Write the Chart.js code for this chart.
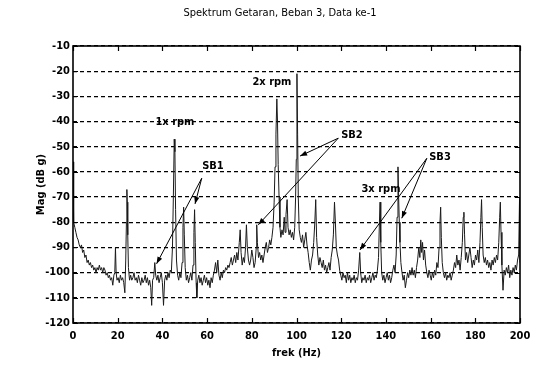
<!DOCTYPE html>
<html>
<head>
<meta charset="utf-8">
<script src="https://cdn.jsdelivr.net/npm/chart.js@4.4.1/dist/chart.umd.min.js"></script>
<style>
  html, body { margin: 0; padding: 0; background: #fff; }
  #wrap { width: 555px; height: 385px; position: relative; }
</style>
</head>
<body>
<div id="wrap"><canvas id="spek"></canvas></div>
<script>
// spectrum (Hz, dB g)
const freqHz = [
  0, 0.3, 0.8, 1.3, 1.8, 2.3, 2.8, 3.3, 3.8, 4.3,
  4.8, 5.3, 5.8, 6.3, 6.8, 7.3, 7.8, 8.3, 8.8, 9.3,
  9.8, 10.3, 10.8, 11.3, 11.8, 12.3, 12.8, 13.3, 13.8, 14.3,
  14.8, 15.3, 15.8, 16.3, 16.8, 17.3, 17.8, 18.3, 18.7, 19.0,
  19.3, 19.7, 20.2, 20.7, 21.2, 21.7, 22.2, 22.7, 23.2, 23.6,
  23.9, 24.1, 24.3, 24.5, 24.8, 25.3, 25.8, 26.3, 26.8, 27.3,
  27.8, 28.3, 28.8, 29.3, 29.8, 30.3, 30.8, 31.3, 31.8, 32.3,
  32.8, 33.3, 33.8, 34.3, 34.8, 35.2, 35.6, 36.1, 36.6, 37.0,
  37.5, 38.0, 38.5, 39.0, 39.5, 40.0, 40.5, 41.0, 41.5, 42.0,
  42.5, 43.0, 43.5, 44.0, 44.5, 44.9, 45.3, 45.6, 45.9, 46.3,
  46.8, 47.3, 47.8, 48.3, 48.8, 49.2, 49.5, 49.8, 50.2, 50.7,
  51.2, 51.7, 52.2, 52.7, 53.2, 53.7, 54.1, 54.4, 54.7, 55.1,
  55.4, 55.8, 56.3, 56.8, 57.3, 57.8, 58.3, 58.8, 59.3, 59.8,
  60.3, 60.8, 61.3, 61.8, 62.3, 62.8, 63.3, 63.8, 64.3, 64.8,
  65.3, 65.8, 66.3, 66.8, 67.3, 67.8, 68.3, 68.8, 69.3, 69.8,
  70.3, 70.8, 71.3, 71.8, 72.3, 72.8, 73.3, 73.8, 74.4, 74.8,
  75.2, 75.7, 76.2, 76.7, 77.2, 77.6, 78.0, 78.5, 79.0, 79.5,
  80.0, 80.5, 81.0, 81.5, 82.0, 82.2, 82.5, 83.0, 83.5, 84.0,
  84.5, 85.0, 85.5, 86.0, 86.5, 87.0, 87.5, 88.0, 88.5, 89.0,
  89.5, 90.0, 90.4, 90.8, 91.2, 91.5, 91.8, 92.2, 92.6, 93.0,
  93.5, 94.0, 94.5, 94.9, 95.3, 95.8, 96.2, 96.7, 97.2, 97.7,
  98.2, 98.7, 99.2, 99.6, 99.9, 100.2, 100.5, 100.8, 101.2, 101.7,
  102.2, 102.7, 103.2, 103.7, 104.2, 104.7, 105.2, 105.7, 106.2, 106.7,
  107.2, 107.7, 108.2, 108.6, 109.0, 109.5, 110.0, 110.5, 111.0, 111.5,
  112.0, 112.5, 113.0, 113.5, 114.0, 114.5, 115.0, 115.5, 116.0, 116.5,
  117.0, 117.4, 117.8, 118.3, 118.8, 119.3, 119.8, 120.3, 120.8, 121.3,
  121.8, 122.3, 122.8, 123.3, 123.8, 124.3, 124.8, 125.3, 125.8, 126.3,
  126.8, 127.3, 127.8, 128.3, 128.7, 129.2, 129.7, 130.2, 130.7, 131.2,
  131.7, 132.2, 132.7, 133.2, 133.7, 134.2, 134.7, 135.2, 135.7, 136.2,
  136.7, 137.1, 137.4, 137.7, 138.1, 138.6, 139.1, 139.6, 140.1, 140.6,
  141.1, 141.6, 142.1, 142.6, 143.1, 143.6, 144.1, 144.6, 145.0, 145.4,
  145.7, 146.0, 146.3, 146.7, 147.2, 147.7, 148.2, 148.7, 149.2, 149.7,
  150.2, 150.7, 151.2, 151.7, 152.2, 152.7, 153.2, 153.7, 154.2, 154.7,
  155.2, 155.6, 156.0, 156.4, 156.8, 157.3, 157.8, 158.3, 158.8, 159.3,
  159.8, 160.3, 160.8, 161.3, 161.8, 162.3, 162.8, 163.3, 163.8, 164.2,
  164.5, 164.8, 165.2, 165.7, 166.2, 166.7, 167.2, 167.7, 168.2, 168.7,
  169.2, 169.7, 170.2, 170.7, 171.2, 171.7, 172.2, 172.7, 173.2, 173.7,
  174.2, 174.6, 174.9, 175.2, 175.6, 176.1, 176.6, 177.1, 177.6, 178.1,
  178.6, 179.1, 179.6, 180.1, 180.6, 181.1, 181.6, 182.1, 182.5, 182.8,
  183.1, 183.5, 184.0, 184.5, 185.0, 185.5, 186.0, 186.5, 187.0, 187.5,
  188.0, 188.5, 189.0, 189.5, 190.0, 190.5, 190.9, 191.2, 191.5, 191.9,
  192.4, 192.9, 193.4, 193.9, 194.4, 194.9, 195.4, 195.9, 196.4, 196.9,
  197.4, 197.9, 198.4, 198.9, 199.4, 199.8, 200
];
const magDb = [
  -56, -80, -82, -84, -86, -87, -89, -90, -89, -92,
  -91, -94, -93, -96, -95, -97, -96, -98, -97, -99,
  -98, -100, -98, -99, -97, -99, -98, -100, -98, -99,
  -101, -100, -102, -101, -103, -102, -105, -101, -100, -90,
  -100, -103, -102, -104, -101, -103, -102, -104, -108, -95,
  -80, -67, -72, -85, -98, -103, -101, -103, -102, -100,
  -103, -102, -104, -101, -103, -105, -102, -104, -103, -101,
  -104, -102, -105, -103, -106, -113, -103, -102, -96, -101,
  -103, -101, -104, -102, -100, -104, -113, -103, -101, -103,
  -100, -102, -99, -100, -90, -70, -47, -52, -75, -95,
  -101, -103, -100, -102, -96, -82, -74, -85, -98, -103,
  -101, -104, -102, -100, -103, -97, -84, -75, -88, -104,
  -110, -103, -101, -104, -102, -105, -103, -101, -104, -102,
  -105, -103, -106, -102, -104, -101, -99, -96, -100, -95,
  -101, -103, -100, -102, -99, -100, -98, -99, -97, -98,
  -96, -94, -97, -95, -93, -96, -92, -95, -88, -83,
  -92, -97, -94, -96, -90, -81, -90, -95, -97, -95,
  -91, -94, -98, -96, -90, -81, -88, -94, -92, -95,
  -93, -96, -93, -90, -88, -92, -90, -87, -89, -86,
  -82, -72, -58, -45, -31, -40, -57, -70, -82, -86,
  -83, -85, -78, -84, -77, -71, -82, -85, -83, -86,
  -84, -87, -82, -70, -55, -21, -45, -70, -83, -86,
  -88, -85, -90, -87, -84, -89, -92, -96, -99, -95,
  -93, -88, -80, -71, -86, -93, -97, -94, -96, -98,
  -95, -99, -97, -100, -98, -96, -99, -94, -91, -85,
  -72, -80, -90, -93, -95, -99, -101, -103, -100, -102,
  -101, -104, -100, -103, -101, -104, -102, -103, -101, -104,
  -102, -103, -99, -92, -100, -104, -102, -103, -101, -104,
  -102, -103, -101, -104, -102, -100, -103, -101, -102, -99,
  -94, -80, -72, -88, -100, -103, -101, -104, -102, -100,
  -103, -101, -104, -102, -99, -97, -100, -93, -78, -58,
  -70, -80, -88, -96, -100, -103, -101, -106, -103, -100,
  -102, -99, -101, -98, -101, -99, -102, -98, -95, -90,
  -94, -87, -92, -88, -95, -91, -97, -100, -102, -99,
  -101, -103, -100, -102, -99, -101, -96, -98, -90, -80,
  -74, -86, -96, -100, -102, -100, -103, -101, -102, -100,
  -103, -101, -99, -96, -98, -93, -97, -95, -99, -94,
  -88, -78, -76, -85, -95, -92, -96, -93, -90, -94,
  -98, -95, -97, -93, -95, -91, -96, -88, -78, -71,
  -82, -93, -96, -94, -97, -95, -98, -96, -99, -95,
  -97, -94, -96, -93, -95, -88, -78, -72, -84, -97,
  -107, -99, -101, -98, -100, -97, -102, -99, -101, -98,
  -100, -97, -99, -95, -93, -70, -96
];

const xTicks = [0, 20, 40, 60, 80, 100, 120, 140, 160, 180, 200];
const yTicks = [-10, -20, -30, -40, -50, -60, -70, -80, -90, -100, -110, -120];

// annotation texts and their anchor (Hz, dB)
const noteText = ['1x rpm', 'SB1', '2x rpm', 'SB2', 'SB3', '3x rpm'];
const noteHz   = [45.6, 62.6, 89, 124.8, 164.2, 137.8];
const noteDb   = [-40.2, -57.6, -24.3, -45.3, -54, -66.7];

// arrows: common tail, two heads each (SB1, SB2, SB3)
const arrowTailHz = [57.6, 118.7, 158.3];
const arrowTailDb = [-62.5, -46.6, -54.6];
const arrowHeadHz = [[37.4, 54.6], [101.6, 82.9], [128.4, 147.1]];
const arrowHeadDb = [[-96.5, -72.7], [-53.7, -81], [-91, -78.4]];

const FONT = "'Liberation Sans Narrow', 'DejaVu Sans Condensed', 'Liberation Sans', sans-serif";

const points = freqHz.map((f, i) => ({ x: f, y: magDb[i] }));

function arrowHead(ctx, x0, y0, x1, y1) {
  const ang = Math.atan2(y1 - y0, x1 - x0);
  const len = 7, half = 2.6;
  ctx.beginPath();
  ctx.moveTo(x1, y1);
  ctx.lineTo(x1 - len * Math.cos(ang) + half * Math.sin(ang), y1 - len * Math.sin(ang) - half * Math.cos(ang));
  ctx.lineTo(x1 - len * Math.cos(ang) - half * Math.sin(ang), y1 - len * Math.sin(ang) + half * Math.cos(ang));
  ctx.closePath();
  ctx.fill();
}

const matlabFrame = {
  id: 'matlabFrame',
  afterDraw(chart) {
    const { ctx, chartArea: a, scales: { x, y } } = chart;
    ctx.save();
    ctx.strokeStyle = '#000';
    ctx.fillStyle = '#000';

    // inward ticks, all four sides
    ctx.lineWidth = 1.2;
    ctx.beginPath();
    xTicks.forEach(v => {
      const px = Math.round(x.getPixelForValue(v)) + 0.5;
      ctx.moveTo(px, a.bottom); ctx.lineTo(px, a.bottom - 5);
      ctx.moveTo(px, a.top); ctx.lineTo(px, a.top + 5);
    });
    yTicks.forEach(v => {
      const py = Math.round(y.getPixelForValue(v)) + 0.5;
      ctx.moveTo(a.left, py); ctx.lineTo(a.left + 5, py);
      ctx.moveTo(a.right, py); ctx.lineTo(a.right - 5, py);
    });
    ctx.stroke();

    // box
    ctx.lineWidth = 1.6;
    ctx.strokeRect(a.left, a.top, a.right - a.left, a.bottom - a.top);

    // title
    ctx.font = '11px ' + FONT;
    ctx.textAlign = 'center';
    ctx.textBaseline = 'middle';
    ctx.fillText('Spektrum Getaran, Beban 3, Data ke-1', 280, 13);

    // arrows
    ctx.lineWidth = 1;
    arrowTailHz.forEach((th, i) => {
      const tx = x.getPixelForValue(th), ty = y.getPixelForValue(arrowTailDb[i]);
      arrowHeadHz[i].forEach((hh, j) => {
        const hx = x.getPixelForValue(hh), hy = y.getPixelForValue(arrowHeadDb[i][j]);
        ctx.beginPath();
        ctx.moveTo(tx, ty); ctx.lineTo(hx, hy);
        ctx.stroke();
        arrowHead(ctx, tx, ty, hx, hy);
      });
    });

    // labels (drawn straight over the trace, no backing box)
    ctx.font = 'bold 11px ' + FONT;
    noteText.forEach((t, i) => {
      const px = x.getPixelForValue(noteHz[i]), py = y.getPixelForValue(noteDb[i]);
      ctx.fillText(t, px, py);
    });
    ctx.restore();
  }
};

new Chart(document.getElementById('spek'), {
  type: 'line',
  data: {
    datasets: [{
      data: points,
      borderColor: '#1a1a1a',
      borderWidth: 1,
      pointRadius: 0,
      tension: 0,
      fill: false
    }]
  },
  options: {
    responsive: true,
    maintainAspectRatio: false,
    animation: false,
    parsing: false,
    layout: { padding: { left: 35, right: 35, top: 46, bottom: 25 } },
    plugins: { legend: { display: false }, tooltip: { enabled: false } },
    scales: {
      x: {
        type: 'linear',
        min: 0, max: 200,
        afterFit(scale) { scale.height = 37; },
        afterBuildTicks(scale) { scale.ticks = xTicks.map(v => ({ value: v })); },
        grid: { display: false, drawTicks: false },
        border: { display: false },
        ticks: { padding: 7, maxRotation: 0, color: '#000', font: { family: FONT, size: 11, weight: 'bold' } },
        title: { display: true, text: 'frek (Hz)', color: '#000', padding: 0, font: { family: FONT, size: 11, weight: 'bold' } }
      },
      y: {
        min: -120, max: -10,
        afterFit(scale) { scale.width = 38; },
        afterBuildTicks(scale) { scale.ticks = yTicks.map(v => ({ value: v })); },
        grid: { color: '#000', lineWidth: 1.2, drawTicks: false },
        border: { display: false, dash: [4, 3] },
        ticks: { padding: 3, color: '#000', font: { family: FONT, size: 11, weight: 'bold' } },
        title: { display: true, text: 'Mag (dB g)', color: '#000', padding: 0, font: { family: FONT, size: 11, weight: 'bold' } }
      }
    }
  },
  plugins: [matlabFrame]
});
</script>
</body>
</html>
